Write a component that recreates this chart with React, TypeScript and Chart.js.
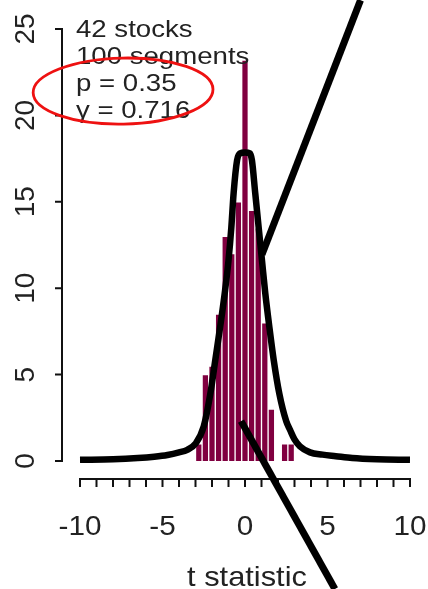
import React, { useEffect, useRef } from "react";
import { Chart, registerables } from "chart.js";

Chart.register(...registerables);

// Histogram bins (t statistic) and heights
const binCenters = [-2.8, -2.4, -2.0, -1.6, -1.2, -0.8, -0.4, 0, 0.4, 0.8, 1.2, 1.6, 2.0, 2.4, 2.8];
const binHeights = [1, 5, 5.5, 8.5, 13, 12, 15, 23.2, 14.5, 13.5, 8, 3, 0, 1, 1];

// Fitted density curve
const curveX = [-10, -8, -6.5, -5.5, -4.7, -4.0, -3.5, -3.0, -2.5, -2.1, -1.8, -1.5, -1.23, -1.0, -0.83, -0.69, -0.48, -0.3, 0, 0.3, 0.42, 0.62, 0.83, 1.03, 1.23, 1.47, 1.74, 2.08, 2.5, 2.73, 3.0, 3.33, 3.94, 4.7, 5.5, 6.5, 8, 10];
const curveY = [0.07, 0.1, 0.17, 0.25, 0.35, 0.5, 0.65, 1.0, 2.0, 3.9, 5.85, 7.8, 9.7, 11.6, 13.5, 15.5, 17.4, 17.8, 17.85, 17.8, 17.4, 15.5, 13.5, 11.6, 9.7, 7.8, 5.85, 3.9, 2.3, 1.8, 1.25, 0.85, 0.5, 0.37, 0.28, 0.17, 0.1, 0.07];

// Axes
const xMinorTicks = [-10, -9, -8, -7, -6, -5, -4, -3, -2, -1, 0, 1, 2, 3, 4, 5, 6, 7, 8, 9, 10];
const xLabelValues = [-10, -5, 0, 5, 10];
const xLabels = ["-10", "-5", "0", "5", "10"];
const yTickValues = [0, 5, 10, 15, 20, 25];
const yLabels = ["0", "5", "10", "15", "20", "25"];
const xTitle = "t statistic";

// Annotation text
const noteLines = ["42 stocks", "100 segments", "p = 0.35", "γ = 0.716"];

const FONT = '"Liberation Sans", Arial, Helvetica, sans-serif';
const TEXT_COLOR = "#222222";

function drawText(ctx: CanvasRenderingContext2D, text: string, x: number, y: number, size: number, sx: number, align: CanvasTextAlign, rot = 0) {
  ctx.save();
  ctx.translate(x, y);
  if (rot) ctx.rotate(rot);
  ctx.scale(sx, 1);
  ctx.font = `${size}px ${FONT}`;
  ctx.textAlign = align;
  ctx.textBaseline = "alphabetic";
  ctx.fillStyle = TEXT_COLOR;
  ctx.fillText(text, 0, 0);
  ctx.restore();
}

const axesPlugin = {
  id: "rAxes",
  afterDatasetsDraw(chart: any) {
    const ctx: CanvasRenderingContext2D = chart.ctx;
    const xs = chart.scales.x;
    const ys = chart.scales.y;
    const area = chart.chartArea;
    ctx.save();
    ctx.strokeStyle = "#111111";
    ctx.lineWidth = 2;
    ctx.lineCap = "butt";

    // y axis
    const yAxisX = area.left - 18;
    ctx.beginPath();
    ctx.moveTo(yAxisX, ys.getPixelForValue(yTickValues[0]));
    ctx.lineTo(yAxisX, ys.getPixelForValue(yTickValues[yTickValues.length - 1]));
    yTickValues.forEach((v) => {
      const py = ys.getPixelForValue(v);
      ctx.moveTo(yAxisX + 1, py);
      ctx.lineTo(yAxisX - 7, py);
    });
    ctx.stroke();
    yTickValues.forEach((v, i) => {
      drawText(ctx, yLabels[i], yAxisX - 28, ys.getPixelForValue(v), 28, 1, "center", -Math.PI / 2);
    });

    // x axis
    const xAxisY = area.bottom + 18;
    ctx.beginPath();
    ctx.moveTo(xs.getPixelForValue(xMinorTicks[0]), xAxisY);
    ctx.lineTo(xs.getPixelForValue(xMinorTicks[xMinorTicks.length - 1]), xAxisY);
    xMinorTicks.forEach((v) => {
      const px = xs.getPixelForValue(v);
      ctx.moveTo(px, xAxisY - 1);
      ctx.lineTo(px, xAxisY + 8);
    });
    ctx.stroke();
    xLabelValues.forEach((v, i) => {
      drawText(ctx, xLabels[i], xs.getPixelForValue(v), xAxisY + 56, 27, 1.1, "center");
    });
    drawText(ctx, xTitle, (xs.getPixelForValue(xLabelValues[0]) + xs.getPixelForValue(xLabelValues[4])) / 2 + 2, xAxisY + 107, 28, 1.1, "center");

    // annotation text
    noteLines.forEach((t, i) => {
      drawText(ctx, t, area.left - 4, area.top + 8 + i * 27, 24, 1.15, "left");
    });
    ctx.restore();
  },
  afterDraw(chart: any) {
    const ctx: CanvasRenderingContext2D = chart.ctx;
    const xs = chart.scales.x;
    const ys = chart.scales.y;
    const P = (x: number, y: number) => [xs.getPixelForValue(x), ys.getPixelForValue(y)];
    ctx.save();
    // red ellipse
    const [cx, cy] = P(-7.39, 21.41);
    const rx = Math.abs(xs.getPixelForValue(5.45) - xs.getPixelForValue(0));
    const ry = Math.abs(ys.getPixelForValue(1.91) - ys.getPixelForValue(0));
    ctx.beginPath();
    ctx.ellipse(cx, cy, rx, ry, -0.02, 0, Math.PI * 2);
    ctx.strokeStyle = "#ee1111";
    ctx.lineWidth = 2.8;
    ctx.stroke();
    // black overlay strokes
    ctx.strokeStyle = "#000000";
    ctx.lineWidth = 7;
    ctx.lineCap = "butt";
    const segs = [
      [7.0, 26.67, 1.03, 11.95],
      [-0.24, 2.31, 5.45, -7.41],
    ];
    segs.forEach(([x1, y1, x2, y2]) => {
      const [a, b] = P(x1, y1);
      const [c, d] = P(x2, y2);
      ctx.beginPath();
      ctx.moveTo(a, b);
      ctx.lineTo(c, d);
      ctx.stroke();
    });
    ctx.restore();
  },
};

export default function App() {
  const ref = useRef<HTMLCanvasElement | null>(null);
  useEffect(() => {
    if (!ref.current) return;
    const chart = new Chart(ref.current, {
      type: "bar",
      data: {
        datasets: [
          {
            type: "line",
            data: curveX.map((x, i) => ({ x, y: curveY[i] })),
            borderColor: "#000000",
            borderWidth: 6.5,
            pointRadius: 0,
            fill: false,
            tension: 0,
            cubicInterpolationMode: "monotone",
            borderCapStyle: "butt",
            borderJoinStyle: "round",
            clip: false,
            order: 1,
          } as any,
          {
            type: "bar",
            data: binCenters.map((x, i) => ({ x, y: binHeights[i] })),
            backgroundColor: "#800040",
            borderColor: "#ffffff",
            borderWidth: 1,
            barPercentage: 1,
            categoryPercentage: 1,
            order: 2,
          } as any,
        ],
      },
      options: {
        responsive: false,
        animation: false,
        devicePixelRatio: 1,
        layout: { padding: { left: 80, right: 18, top: 29, bottom: 128 } },
        plugins: { legend: { display: false }, tooltip: { enabled: false } },
        events: [],
        scales: {
          x: { type: "linear", min: -10, max: 10, display: false, offset: false },
          y: { type: "linear", min: 0, max: 25, display: false },
        },
      },
      plugins: [axesPlugin],
    });
    return () => chart.destroy();
  }, []);
  return (
    <div style={{ position: "absolute", left: 0, top: 0, width: 428, height: 589, background: "#ffffff" }}>
      <canvas ref={ref} width={428} height={589} style={{ display: "block" }} />
    </div>
  );
}
